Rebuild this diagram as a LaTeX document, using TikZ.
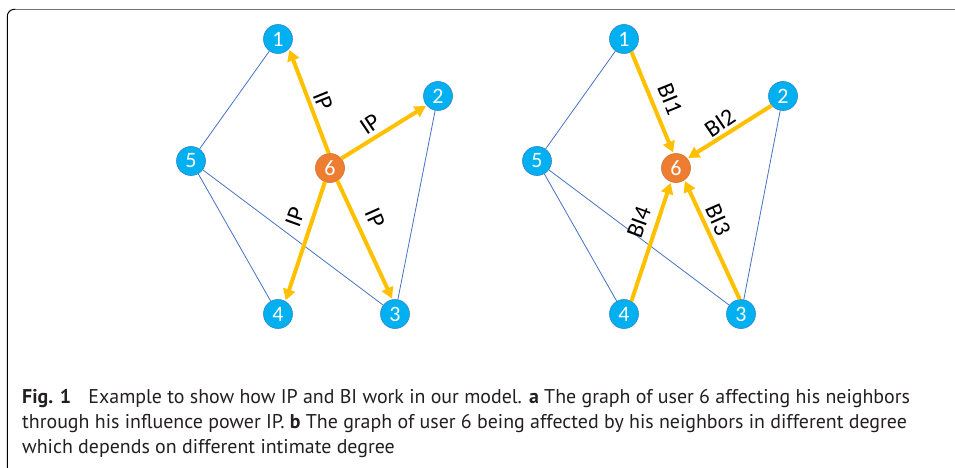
\documentclass[tikz,border=0pt]{standalone}
\usepackage{fontspec}
\setmainfont{Carlito}
\newfontfamily\capfont{PT Sans}
\usetikzlibrary{arrows.meta}
\definecolor{nblue}{HTML}{00B0F0}
\definecolor{nborder}{HTML}{2E86C8}
\definecolor{norange}{HTML}{ED7D31}
\definecolor{ayellow}{HTML}{FFC000}
\definecolor{eblue}{HTML}{4472C4}
\definecolor{capcol}{HTML}{231F20}
\begin{document}
\begin{tikzpicture}[x=1pt,y=-1pt,
  vnode/.style={circle, fill=nblue, draw=nborder, line width=0.6pt, minimum size=29pt, inner sep=0pt, text=white, font=\fontsize{22}{22}\selectfont},
  cnode/.style={vnode, fill=norange, draw=norange!90!black},
  link/.style={eblue, line width=0.8pt},
  infl/.style={ayellow, line width=4pt, -{Triangle[length=11pt,width=12pt]}, shorten >=1pt},
  elabel/.style={font=\fontsize{24}{24}\selectfont, inner sep=0pt},
  capline/.style={anchor=base west, inner sep=0pt, text=capcol, font=\capfont\fontsize{19.9}{25}\selectfont},
  ]
\useasboundingbox (0,0) rectangle (955,468);
% frame
\draw[black, line width=1pt, rounded corners=7pt] (7.3,470) -- (7.3,9.3) -- (16,9.3);
\draw[black!55, line width=1.3pt] (15,9.3) -- (960,9.3);

% ---------- graph a ----------
\node[vnode] (a1) at (278,39) {1};
\node[vnode] (a2) at (438,96) {2};
\node[vnode] (a3) at (395,314) {3};
\node[vnode] (a4) at (278,314) {4};
\node[vnode] (a5) at (191,161) {5};
\node[cnode] (a6) at (330,168) {6};
\draw[link] (a1) -- (a5);
\draw[link] (a5) -- (a4);
\draw[link] (a5) -- (a3);
\draw[link] (a2) -- (a3);
\draw[infl] (a6.95) -- (a1.-42);
\draw[infl] (a6.40) -- (a2.-140);
\draw[infl] (a6.-110) -- (a4.60);
\draw[infl] (a6.-60) -- (a3.100);
\node[elabel, rotate=-68] (la1) at (323,101) {IP};
\node[elabel, rotate=33.7] (la2) at (370,124) {IP};
\node[elabel, rotate=70] (la4) at (295,217) {IP};
\node[elabel, rotate=-66] (la3) at (375,218) {IP};

% ---------- graph b ----------
\node[vnode] (b1) at (624,39) {1};
\node[vnode] (b2) at (783,96) {2};
\node[vnode] (b3) at (741,314) {3};
\node[vnode] (b4) at (624,314) {4};
\node[vnode] (b5) at (537,161) {5};
\node[cnode] (b6) at (676,168) {6};
\draw[link] (b1) -- (b5);
\draw[link] (b5) -- (b4);
\draw[link] (b5) -- (b3);
\draw[link] (b2) -- (b3);
\draw[infl] (b1.-60) -- (b6.100);
\draw[infl] (b2.-140) -- (b6.40);
\draw[infl] (b4.60) -- (b6.-110);
\draw[infl] (b3.95) -- (b6.-55);
\node[elabel, rotate=-68] (lb1) at (670,99) {BI1};
\node[elabel, rotate=34] (lb2) at (720,123) {BI2};
\node[elabel, rotate=70] (lb4) at (639,222) {BI4};
\node[elabel, rotate=-66] (lb3) at (718,220) {BI3};

% ---------- caption ----------
\node[capline] (c1) at (22,403) {\textbf{Fig. 1}\hspace{0.6em} Example to show how IP and BI work in our model. \textbf{a} The graph of user 6 affecting his neighbors};
\node[capline] (c2) at (22,428) {through his influence power IP. \textbf{b} The graph of user 6 being affected by his neighbors in different degree};
\node[capline] (c3) at (22,453) {which depends on different intimate degree};
\end{tikzpicture}
\end{document}
